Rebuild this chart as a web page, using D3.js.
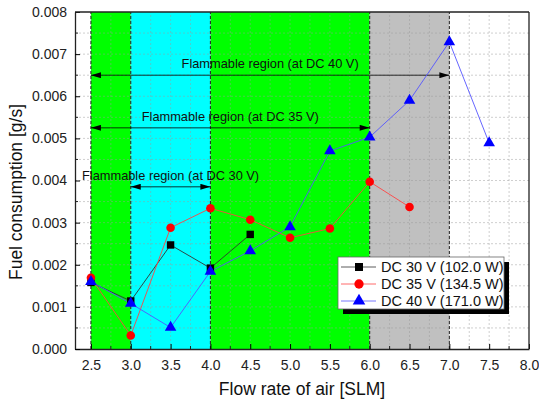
<!DOCTYPE html>
<html><head><meta charset="utf-8">
<script src="https://cdn.jsdelivr.net/npm/d3@7"></script>
<style>body{margin:0;background:#fff}svg{display:block;font-family:"Liberation Sans",Arial,sans-serif}</style>
</head><body>
<script>
const xTicks = [2.5,3.0,3.5,4.0,4.5,5.0,5.5,6.0,6.5,7.0,7.5,8.0];
const yTicks = [0,0.001,0.002,0.003,0.004,0.005,0.006,0.007,0.008];
const dc30X = [2.5,3.0,3.5,4.0,4.5];
const dc30Y = [0.00158,0.00114,0.00247,0.00192,0.00272];
const dc35X = [2.5,3.0,3.5,4.0,4.5,5.0,5.5,6.0,6.5];
const dc35Y = [0.00169,0.00032,0.00288,0.00334,0.00307,0.00264,0.00286,0.00397,0.00337];
const dc40X = [2.5,3.0,3.5,4.0,4.5,5.0,5.5,6.0,6.5,7.0,7.5];
const dc40Y = [0.00160,0.00108,0.00051,0.00184,0.00233,0.00290,0.00470,0.00503,0.00590,0.00729,0.00489];
const bandStart = [2.5,3.0,4.0,6.0];
const bandEnd = [3.0,4.0,6.0,7.0];
const bandColor = ["#00ff00","#00ffff","#00ff00","#c0c0c0"];
const arrowLabels = ["Flammable region (at DC 40 V)","Flammable region (at DC 35 V)","Flammable region (at DC 30 V)"];
const arrowFrom = [2.5,2.5,3.0];
const arrowTo = [7.0,6.0,4.0];
const arrowY = [0.0065,0.00525,0.00385];
const labelX = [4.75,4.25,3.5];
const legendLabels = ["DC 30 V (102.0 W)","DC 35 V (134.5 W)","DC 40 V (171.0 W)"];

const W=539,H=403;
const svg=d3.select("body").append("svg").attr("width",W).attr("height",H);
const x=d3.scaleLinear().domain([2.3,8.0]).range([75,529]);
const y=d3.scaleLinear().domain([0,0.008]).range([349,12]);

// bands
svg.selectAll("rect.band").data(bandStart).enter().append("rect")
 .attr("x",(d)=>x(d)).attr("width",(d,i)=>x(bandEnd[i])-x(d))
 .attr("y",y(0.008)).attr("height",y(0)-y(0.008))
 .attr("fill",(d,i)=>bandColor[i]);

// grid
const gx=d3.range(2.5,8.0,0.25), gy=d3.range(0.0005,0.008,0.0005);
svg.append("g").selectAll("line").data(gx).enter().append("line")
 .attr("x1",d=>x(d)).attr("x2",d=>x(d)).attr("y1",y(0)).attr("y2",y(0.008))
 .attr("stroke","#999").attr("stroke-opacity",0.6).attr("stroke-dasharray","2,2").attr("stroke-width",0.8);
svg.append("g").selectAll("line").data(gy).enter().append("line")
 .attr("y1",d=>y(d)).attr("y2",d=>y(d)).attr("x1",x(2.3)).attr("x2",x(8.0))
 .attr("stroke","#999").attr("stroke-opacity",0.6).attr("stroke-dasharray","2,2").attr("stroke-width",0.8);

// boundary dashed lines
svg.append("g").selectAll("line").data([2.5,3.0,4.0,6.0,7.0]).enter().append("line")
 .attr("x1",d=>x(d)).attr("x2",d=>x(d)).attr("y1",y(0)).attr("y2",y(0.008))
 .attr("stroke","#222").attr("stroke-dasharray","3,2").attr("stroke-width",1);

// arrows
const defs=svg.append("defs");
defs.append("marker").attr("id","ah").attr("viewBox","0 0 10 6").attr("refX",10).attr("refY",3)
 .attr("markerWidth",12).attr("markerHeight",6).attr("markerUnits","userSpaceOnUse").attr("orient","auto-start-reverse")
 .append("path").attr("d","M0,0L10,3L0,6Z").attr("fill","#000");
arrowY.forEach((v,i)=>{
 svg.append("line").attr("x1",x(arrowFrom[i])).attr("x2",x(arrowTo[i])).attr("y1",y(v)).attr("y2",y(v))
  .attr("stroke","#000").attr("stroke-width",0.8)
  .attr("marker-start","url(#ah)").attr("marker-end","url(#ah)");
 svg.append("text").attr("x",x(labelX[i])).attr("y",y(v)-7).attr("text-anchor","middle")
  .attr("font-size",12.8).attr("fill","#111").text(arrowLabels[i]);
});

// series
const series=[
 {xs:dc30X,ys:dc30Y,color:"#000",line:"#333",shape:d3.symbolSquare,size:55},
 {xs:dc35X,ys:dc35Y,color:"#ff0000",line:"#ff4444",shape:d3.symbolCircle,size:58},
 {xs:dc40X,ys:dc40Y,color:"#0000ff",line:"#5555ff",shape:d3.symbolTriangle,size:58}
];
series.forEach(s=>{
 const pts=s.xs.map((v,i)=>[v,s.ys[i]]);
 svg.append("path").datum(pts).attr("fill","none").attr("stroke",s.line).attr("stroke-width",0.9)
  .attr("d",d3.line().x(d=>x(d[0])).y(d=>y(d[1])));
});
series.forEach(s=>{
 const pts=s.xs.map((v,i)=>[v,s.ys[i]]);
 svg.append("g").selectAll("path").data(pts).enter().append("path")
  .attr("transform",d=>`translate(${x(d[0])},${y(d[1])})`)
  .attr("d",d3.symbol().type(s.shape).size(s.size)).attr("fill",s.color);
});

// axes
const xAxis=svg.append("g").attr("transform",`translate(0,${y(0)})`)
 .call(d3.axisBottom(x).tickValues(xTicks).tickFormat(d3.format(".1f")).tickSizeInner(-5).tickSizeOuter(0));
const yAxis=svg.append("g").attr("transform",`translate(${x(2.3)},0)`)
 .call(d3.axisLeft(y).tickValues(yTicks).tickFormat(d3.format(".3f")).tickSizeInner(-5).tickSizeOuter(0));
[xAxis,yAxis].forEach(a=>{a.selectAll("text").attr("font-size",14).attr("fill","#222").attr("font-family","Liberation Sans, Arial, sans-serif");
 a.select(".domain").attr("stroke","#222").attr("stroke-width",1.3);});
xAxis.selectAll(".tick text").attr("dy","1.3em");
yAxis.selectAll(".tick text").attr("dx","-0.35em");
// minor ticks
svg.append("g").selectAll("line").data(d3.range(2.75,8.0,0.5)).enter().append("line")
 .attr("x1",d=>x(d)).attr("x2",d=>x(d)).attr("y1",y(0)).attr("y2",y(0)-3).attr("stroke","#222");
svg.append("g").selectAll("line").data(d3.range(0.0005,0.008,0.001)).enter().append("line")
 .attr("y1",d=>y(d)).attr("y2",d=>y(d)).attr("x1",x(2.3)).attr("x2",x(2.3)+3).attr("stroke","#222");
// frame top/right
svg.append("line").attr("x1",x(2.3)).attr("x2",x(8.0)).attr("y1",y(0.008)).attr("y2",y(0.008)).attr("stroke","#222").attr("stroke-width",1.3);
svg.append("line").attr("x1",x(8.0)).attr("x2",x(8.0)).attr("y1",y(0.008)).attr("y2",y(0)).attr("stroke","#222").attr("stroke-width",1.3);

// axis titles
svg.append("text").attr("x",302).attr("y",395).attr("text-anchor","middle").attr("font-size",17.5).attr("fill","#111").text("Flow rate of air [SLM]");
svg.append("text").attr("transform","translate(22,192) rotate(-90)").attr("text-anchor","middle").attr("font-size",17.5).attr("fill","#111").text("Fuel consumption [g/s]");

// legend
const lg=svg.append("g").attr("transform","translate(338,257)");
lg.append("rect").attr("x",5).attr("y",5).attr("width",166).attr("height",52).attr("fill","#000");
lg.append("rect").attr("x",0).attr("y",0).attr("width",166).attr("height",52).attr("fill","#fff").attr("stroke","#666").attr("stroke-width",0.8);
series.forEach((s,i)=>{
 const yy=10+i*17;
 lg.append("line").attr("x1",3).attr("x2",38).attr("y1",yy).attr("y2",yy).attr("stroke",s.line).attr("stroke-width",0.8);
 lg.append("path").attr("transform",`translate(21,${yy})`).attr("d",d3.symbol().type(s.shape).size(s.size+10)).attr("fill",s.color);
 lg.append("text").attr("x",43).attr("y",yy+5).attr("font-size",14.5).attr("fill","#111").text(legendLabels[i]);
});
</script>
</body></html>
